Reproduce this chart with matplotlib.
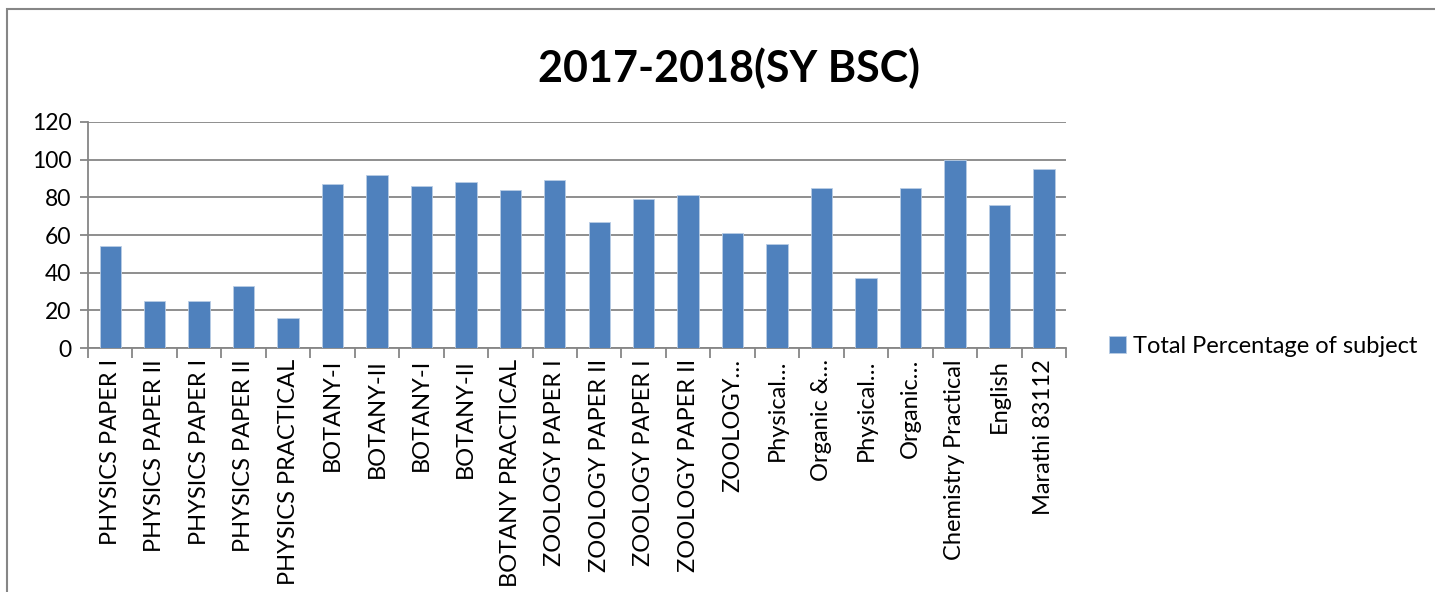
import matplotlib
matplotlib.use('Agg')
import matplotlib.pyplot as plt
import numpy as np

# subjects (as shown, long names are cut off by the chart)
subjects = ['PHYSICS PAPER I', 'PHYSICS PAPER II', 'PHYSICS PAPER I', 'PHYSICS PAPER II',
            'PHYSICS PRACTICAL', 'BOTANY-I', 'BOTANY-II', 'BOTANY-I', 'BOTANY-II',
            'BOTANY PRACTICAL', 'ZOOLOGY PAPER I', 'ZOOLOGY PAPER II', 'ZOOLOGY PAPER I',
            'ZOOLOGY PAPER II', 'ZOOLOGY\u2026', 'Physical\u2026', 'Organic &\u2026',
            'Physical\u2026', 'Organic\u2026', 'Chemistry Practical', 'English', 'Marathi 83112']
percent = [54, 25, 25, 33, 16, 87, 92, 86, 88, 84, 89, 67, 79, 81, 61, 55, 85, 37, 85, 100, 76, 95]
series_name = 'Total Percentage of subject'
title = '2017-2018(SY BSC)'
yticks = [0, 20, 40, 60, 80, 100, 120]

plt.rcParams['font.family'] = ['Lato', 'DejaVu Sans']

fig = plt.figure(figsize=(14.35, 5.92), dpi=100)
ax = fig.add_axes([0.0613, 0.412, 0.6816, 0.382])

x = np.arange(len(subjects))
ax.bar(x, percent, width=0.48, color='#4F81BD', edgecolor='#B9CDE5', linewidth=0.6,
       label=series_name, zorder=3)

grey = '#868686'
ax.set_ylim(0, 120)
ax.set_yticks(yticks)
ax.set_xlim(-0.5, len(subjects) - 0.5)
ax.yaxis.grid(True, color=grey, linewidth=1.3, zorder=0)

# ticks between categories, labels at the centres
ax.set_xticks(np.arange(-0.5, len(subjects), 1.0))
ax.set_xticklabels([])
ax.set_xticks(x, minor=True)
ax.set_xticklabels(subjects, minor=True, rotation=90, va='top', ha='center', fontsize=17)
ax.tick_params(axis='x', which='major', length=7, color=grey, width=1.3, direction='out')
ax.tick_params(axis='x', which='minor', length=0, pad=8)
ax.tick_params(axis='y', length=6, color=grey, width=1.3, labelsize=16.5, pad=6)

for s in ['top', 'right']:
    ax.spines[s].set_visible(False)
for s in ['left', 'bottom']:
    ax.spines[s].set_color(grey)
    ax.spines[s].set_linewidth(1.3)

fig.text(0.508, 0.885, title, ha='center', va='center', fontsize=31, fontweight='bold')

fig.legend(loc='center left', bbox_to_anchor=(0.758, 0.415), frameon=False,
           fontsize=17, handlelength=0.7, handleheight=0.7, handletextpad=0.3)

# chart border
border = plt.Rectangle((0.005, -0.1), 1.2, 1.085, transform=fig.transFigure,
                       fill=False, edgecolor=grey, linewidth=1.5)
fig.patches.append(border)

fig.savefig('out.png', dpi=100)
